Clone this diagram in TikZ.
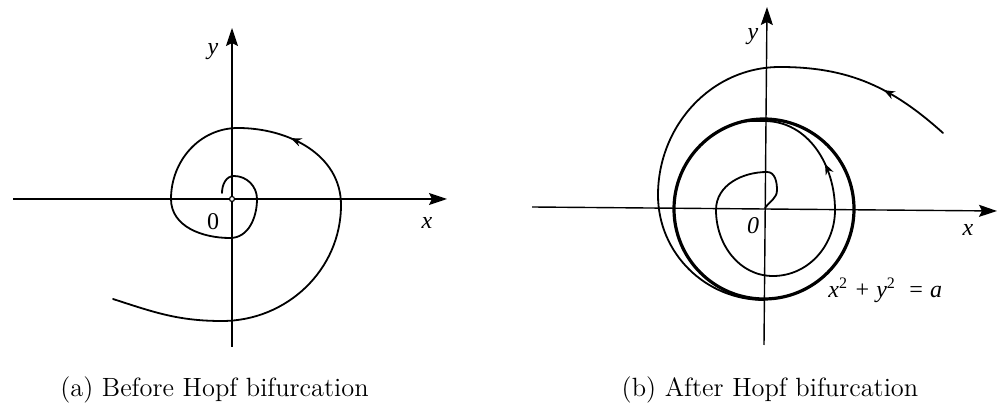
\documentclass[tikz,border=0pt]{standalone}
\usepackage{fontspec}
\newfontfamily\labfont{Liberation Serif}
\usetikzlibrary{arrows.meta,decorations.markings}
\begin{document}
\begin{tikzpicture}[x=0.5pt,y=-0.5pt,
  axis/.style={line width=0.7pt,-{Stealth[length=9pt,width=6pt,inset=1.5pt]}},
  traj/.style={line width=0.9pt, line join=round, line cap=round},
  midarrow/.style={postaction={decorate},decoration={markings,mark=at position #1 with {\arrow{Stealth[length=5.5pt,width=4.2pt]}}}},
  lab/.style={font=\labfont\itshape\fontsize{12}{14}\selectfont, inner sep=0pt},
  captext/.style={font=\fontsize{13.2}{16}\selectfont, anchor=base, inner sep=0pt}]
\useasboundingbox[fill=white] (0,0) rectangle (1001,410);
% ---------- (a) ----------
\coordinate (axl) at (13,199);
\coordinate (axr) at (447,199);
\coordinate (ayb) at (232,347);
\coordinate (ayt) at (232,28);
\draw[axis] (axl) -- (axr);
\draw[axis] (ayb) -- (ayt);
\coordinate (aE) at (113,299);
\coordinate (aB1) at (222,321);
\coordinate (aR1) at (341,205);
\coordinate (aT1) at (238,128);
\coordinate (aL1) at (171,199);
\coordinate (aB2) at (230,238);
\coordinate (aR2) at (257,199);
\coordinate (aT2) at (234,176);
\coordinate (aS) at (222,193);
\draw[traj, midarrow=0.522] (aE) to[out=-18,in=180] (aB1) to[out=0,in=270] (aR1)
  to[out=90,in=0] (aT1) to[out=180,in=90] (aL1) to[out=270,in=180] (aB2)
  to[out=0,in=270] (aR2) to[out=90,in=0] (aT2) to[out=180,in=90] (aS);
\draw[line width=0.6pt, fill=white] (232,199) circle[radius=2.5];
\node[lab] (ya) at (213,52) {y};
\node[lab] (xa) at (427,223) {x};
\node[lab, font=\labfont\fontsize{12}{14}\selectfont] (oa) at (213,222) {0};
\node[captext] (capa) at (214.5,397) {(a) Before Hopf bifurcation};
% ---------- (b) ----------
\coordinate (bxl) at (532,207);
\coordinate (bxr) at (997,211);
\coordinate (byb) at (764,345);
\coordinate (byt) at (767,7);
\draw[axis] (bxl) -- (bxr);
\draw[axis] (byb) -- (byt);
\draw[line width=1.6pt] (764,209) circle[radius=90];
% inner spiral
\coordinate (iO) at (765,208);
\coordinate (iR0) at (777,190);
\coordinate (iT0) at (767,172);
\coordinate (iL0) at (716,210);
\coordinate (iB0) at (773,276);
\coordinate (iR1) at (835,210);
\coordinate (iT1) at (764,121);
\coordinate (iE) at (745,121.5);
\draw[traj, midarrow=0.787] (iO) to[out=55,in=270] (iR0) to[out=90,in=0] (iT0)
  to[out=180,in=90] (iL0) to[out=270,in=180] (iB0) to[out=0,in=270] (iR1)
  to[out=90,in=0] (iT1) to[out=180,in=6] (iE);
% outer spiral
\coordinate (oS) at (943,133);
\coordinate (oT) at (780,67);
\coordinate (oL) at (658,195);
\coordinate (oB) at (764,300);
\draw[traj, midarrow=0.135] (oS) to[out=138,in=0] (oT) to[out=180,in=90] (oL)
  to[out=270,in=180] (oB);
\node[lab] (yb) at (753,37) {y};
\node[lab] (xb) at (968,230) {x};
\node[lab] (ob) at (753,226) {0};
\node[lab, anchor=west] (eq) at (828,290) {x\textsuperscript{\upshape 2} + y\textsuperscript{\upshape 2}\ \ = a};
\node[captext] (capb) at (770,397) {(b) After Hopf bifurcation};
\end{tikzpicture}
\end{document}
